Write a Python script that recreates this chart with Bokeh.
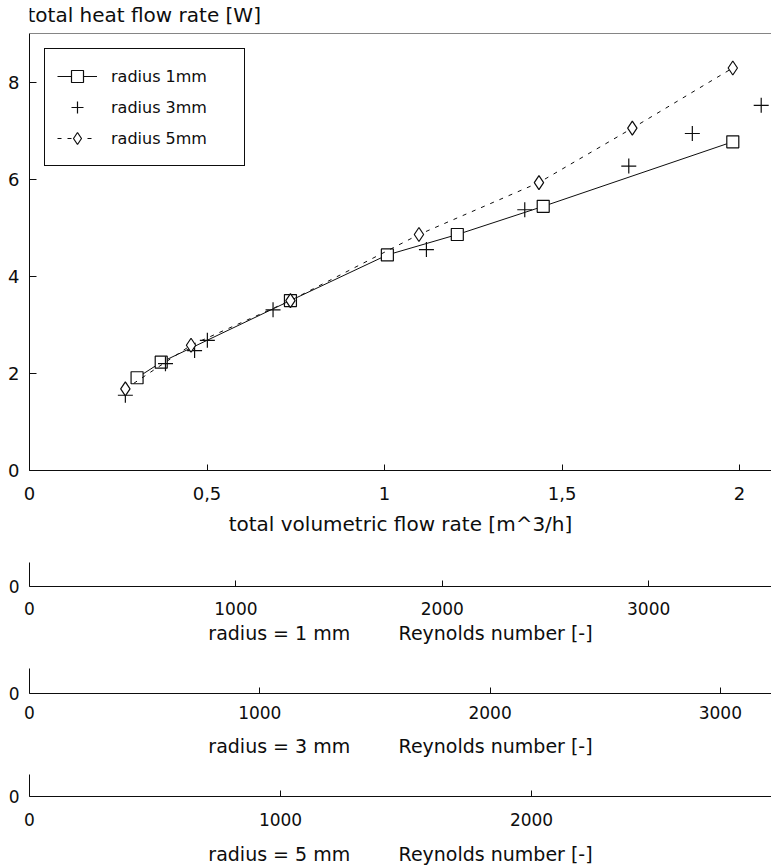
from bokeh.plotting import figure
from bokeh.models import FixedTicker, Span, Legend, LegendItem, Range1d, Label
from bokeh.layouts import column
from bokeh.embed import file_html
from bokeh.resources import INLINE

# ---------------- data ----------------
flow_r1 = [0.303, 0.371, 0.735, 1.008, 1.205, 1.447, 1.981]
heat_r1 = [1.91, 2.23, 3.50, 4.44, 4.86, 5.44, 6.77]

flow_r3 = [0.270, 0.383, 0.465, 0.501, 0.686, 1.118, 1.395, 1.688, 1.867, 2.061]
heat_r3 = [1.55, 2.20, 2.47, 2.68, 3.31, 4.55, 5.37, 6.27, 6.94, 7.52]

flow_r5 = [0.270, 0.455, 0.735, 1.097, 1.435, 1.698, 1.981]
heat_r5 = [1.68, 2.58, 3.50, 4.86, 5.93, 7.05, 8.29]

x_ticks = [0, 0.5, 1, 1.5, 2]
x_tick_labels = ["0", "0,5", "1", "1,5", "2"]
y_ticks = [0, 2, 4, 6, 8]

re_ticks_r1 = [0, 1000, 2000, 3000]
re_ticks_r3 = [0, 1000, 2000, 3000]
re_ticks_r5 = [0, 1000, 2000]
re_max = [3595, 3222, 2956]

FONT = "DejaVu Sans"
INK = "#0d0d0d"
W = 771
GAP = "\u00a0" * 8


def style_axis(ax, size="17px"):
    ax.axis_line_color = INK
    ax.major_tick_line_color = INK
    ax.minor_tick_line_color = None
    ax.major_label_text_font = FONT
    ax.major_label_text_font_size = size
    ax.major_label_text_color = INK
    ax.axis_label_text_font = FONT
    ax.axis_label_text_font_style = "normal"
    ax.axis_label_text_color = INK


# ---------------- header (caption of the y quantity) ----------------
HEAD_H = 26
head = figure(width=W, height=HEAD_H, x_axis_type=None, y_axis_type=None,
              x_range=Range1d(0, 1), y_range=Range1d(0, 1),
              output_backend="svg", toolbar_location=None,
              min_border_left=0, min_border_right=0, min_border_top=0, min_border_bottom=0)
head.outline_line_color = None
head.xgrid.visible = False
head.ygrid.visible = False
head.add_layout(Label(x=-2, y=HEAD_H - 14, x_units="screen", y_units="screen",
                      text="total heat flow rate [W]", text_font=FONT,
                      text_font_size="20px", text_color=INK,
                      text_align="left", text_baseline="middle"))

# ---------------- main figure ----------------
p = figure(width=W, height=548 - HEAD_H, x_range=Range1d(0, 2.09), y_range=Range1d(0, 9.0),
           output_backend="svg", toolbar_location=None,
           min_border_left=29, min_border_right=0, min_border_top=33 - HEAD_H,
           min_border_bottom=78)
p.outline_line_color = None
p.xgrid.visible = False
p.ygrid.visible = False
p.background_fill_color = "white"
p.border_fill_color = "white"

style_axis(p.xaxis[0], "18px")
style_axis(p.yaxis[0], "18px")
p.xaxis.ticker = FixedTicker(ticks=x_ticks)
p.xaxis.major_label_overrides = {t: s for t, s in zip(x_ticks, x_tick_labels)}
p.yaxis.ticker = FixedTicker(ticks=y_ticks)
p.xaxis.major_tick_in = 6
p.xaxis.major_tick_out = 0
p.yaxis.major_tick_in = 7
p.yaxis.major_tick_out = 0
p.xaxis.major_label_standoff = 16
p.yaxis.major_label_standoff = 10
p.xaxis.axis_label = "total volumetric flow rate [m^3/h]"
p.xaxis.axis_label_text_font_size = "20px"
p.xaxis.axis_label_standoff = 9

p.add_layout(Span(location=9.0, dimension="width", line_color=INK, line_width=1))

r1l = p.line(flow_r1, heat_r1, line_color=INK, line_width=1)
r1m = p.scatter(flow_r1, heat_r1, marker="square", size=12, fill_color="white",
                line_color=INK, line_width=1.2)
r3m = p.scatter(flow_r3, heat_r3, marker="cross", size=15, line_color=INK, line_width=1.2)
r5l = p.line(flow_r5, heat_r5, line_color=INK, line_width=1, line_dash="4 6")
r5m = p.scatter(flow_r5, heat_r5, marker="diamond", size=14, fill_color="white",
                line_color=INK, line_width=1.2)

legend = Legend(items=[
    LegendItem(label="radius 1mm", renderers=[r1l, r1m]),
    LegendItem(label="radius 3mm", renderers=[r3m]),
    LegendItem(label="radius 5mm", renderers=[r5l, r5m]),
], location="top_left")
legend.margin = 15
legend.padding = 12
legend.spacing = 1
legend.glyph_width = 40
legend.glyph_height = 30
legend.label_height = 30
legend.label_width = 121
legend.label_standoff = 14
legend.label_text_font = FONT
legend.label_text_font_size = "16px"
legend.label_text_color = INK
legend.border_line_color = INK
legend.border_line_width = 1
legend.border_line_alpha = 1
legend.background_fill_color = "white"
legend.background_fill_alpha = 1
p.add_layout(legend)


# ---------------- Reynolds strips ----------------
def make_strip(xmax, ticks, title, height, top, bottom, tick_so, label_so):
    s = figure(width=W, height=height, x_range=Range1d(0, xmax), y_range=Range1d(0, 1),
               output_backend="svg", toolbar_location=None,
               min_border_left=29, min_border_right=0, min_border_top=top,
               min_border_bottom=bottom)
    s.outline_line_color = None
    s.xgrid.visible = False
    s.ygrid.visible = False
    style_axis(s.xaxis[0], "17px")
    style_axis(s.yaxis[0], "17px")
    s.xaxis.ticker = FixedTicker(ticks=ticks)
    s.yaxis.ticker = FixedTicker(ticks=[0])
    s.xaxis.major_tick_in = 6
    s.xaxis.major_tick_out = 0
    s.yaxis.major_tick_in = 0
    s.yaxis.major_tick_out = 0
    s.yaxis.major_label_standoff = 10
    s.xaxis.major_label_standoff = tick_so
    s.xaxis.axis_label = title
    s.xaxis.axis_label_text_font_size = "19px"
    s.xaxis.axis_label_standoff = label_so
    return s


s1 = make_strip(re_max[0], re_ticks_r1, "radius = 1 mm" + GAP + "Reynolds number [-]",
                104, 14, 66, 15, 4)
s2 = make_strip(re_max[1], re_ticks_r3, "radius = 3 mm" + GAP + "Reynolds number [-]",
                110, 16, 69, 12, 13)
s3 = make_strip(re_max[2], re_ticks_r5, "radius = 5 mm" + GAP + "Reynolds number [-]",
                105, 12, 70, 16, 14)

layout = column(head, p, s1, s2, s3, spacing=0)
open("out.html", "w").write(file_html(layout, INLINE))
